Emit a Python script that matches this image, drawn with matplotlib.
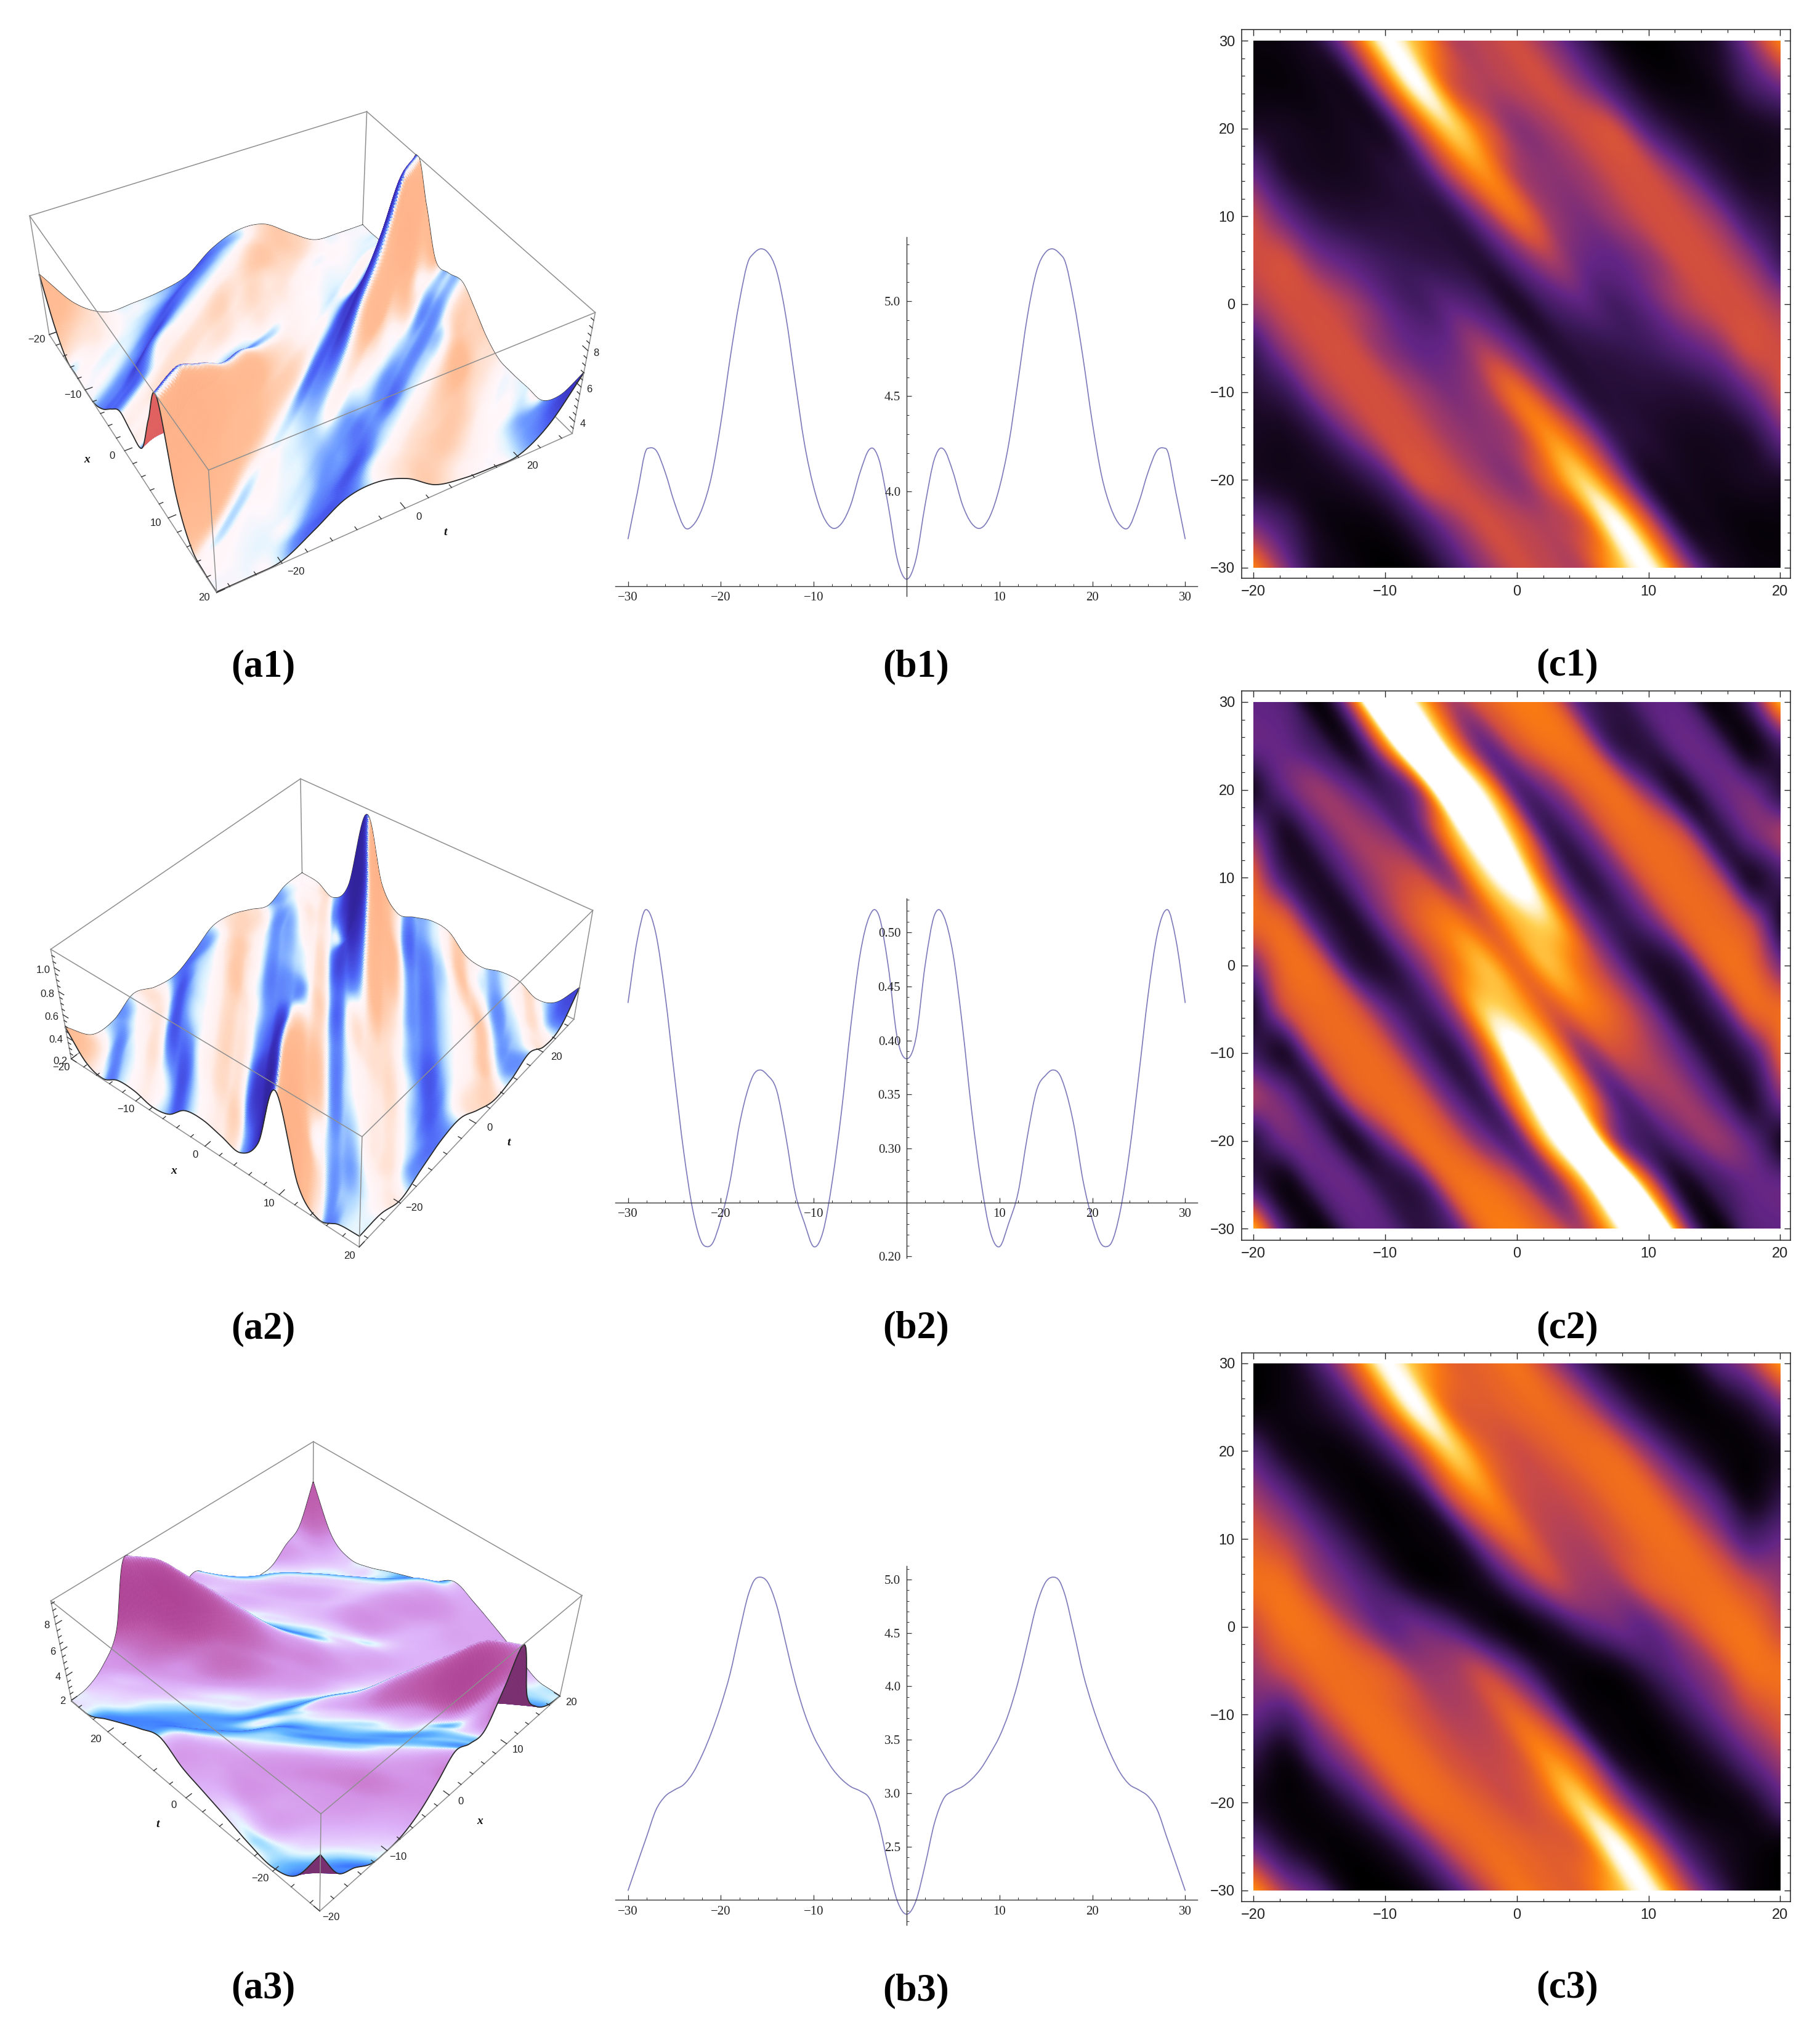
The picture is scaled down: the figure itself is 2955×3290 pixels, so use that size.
import numpy as np
import matplotlib
matplotlib.use("Agg")
import matplotlib.pyplot as plt
from matplotlib.colors import LinearSegmentedColormap
from matplotlib.transforms import Affine2D
from matplotlib.ticker import MultipleLocator, FixedLocator, FixedFormatter
from matplotlib.path import Path
from matplotlib.patches import PathPatch

W, H = 2955, 3290
X_NODES = [-20, -17.5, -15, -12.5, -10, -7.5, -5, -2.5, 0, 2.5, 5, 7.5, 10, 12.5, 15, 17.5, 20]
T_TOP = [30, 25, 20, 15, 10, 5]

# colour levels; rows t = 30 ... 5, then t = 0
c1_rows = [
 [.03,.05,.15,.50,1.00,.78,.47,.47,.50,.38,.20,.04,.00,.04,.10,.35,.66],
 [.03,.03,.06,.12,.55,1.00,.55,.45,.47,.50,.38,.20,.06,.03,.06,.20,.33],
 [.10,.08,.06,.08,.12,.50,.86,.58,.38,.43,.50,.50,.25,.12,.07,.07,.10],
 [.30,.12,.08,.08,.12,.18,.48,.70,.45,.38,.42,.50,.50,.35,.17,.08,.08],
 [.48,.30,.17,.13,.13,.13,.15,.38,.60,.42,.35,.42,.50,.50,.40,.20,.12],
 [.50,.50,.35,.27,.20,.17,.15,.13,.30,.43,.32,.30,.38,.50,.50,.40,.20],
]
c1_mid = [.42,.50,.50,.43,.30,.22,.28,.22,.10,.22,.28,.22,.30,.43,.50,.50,.42]

c2_rows = [
 [.30,.25,.03,.55,1.7,.90,.45,.55,.65,.60,.25,.15,.28,.27,.03,.20,.75],
 [.30,.30,.20,.10,.65,1.6,.80,.32,.50,.62,.58,.20,.15,.30,.27,.05,.20],
 [.10,.30,.40,.30,.20,.45,1.45,.90,.28,.35,.55,.60,.35,.10,.28,.32,.15],
 [.35,.10,.28,.42,.38,.28,.75,1.3,.75,.20,.30,.55,.60,.50,.15,.30,.42],
 [.55,.20,.10,.30,.45,.50,.40,.85,1.1,.50,.15,.30,.55,.60,.50,.12,.20],
 [.60,.55,.20,.10,.35,.55,.65,.55,.80,.85,.40,.18,.30,.55,.60,.50,.12],
]
c2_mid = [.35,.60,.55,.18,.12,.35,.60,.80,.60,.80,.60,.35,.12,.18,.55,.60,.35]

c3_rows = [
 [.00,.05,.25,.55,1.00,.78,.58,.58,.62,.45,.22,.05,.00,.03,.25,.40,.70],
 [.02,.04,.10,.25,.60,1.00,.60,.55,.58,.60,.50,.28,.10,.02,.03,.12,.30],
 [.25,.08,.03,.05,.20,.50,.86,.60,.50,.55,.60,.58,.38,.18,.05,.02,.08],
 [.42,.28,.12,.03,.02,.12,.50,.70,.52,.48,.52,.60,.60,.42,.25,.05,.15],
 [.55,.45,.30,.15,.03,.02,.08,.40,.58,.47,.45,.52,.60,.60,.45,.25,.30],
 [.62,.60,.42,.30,.18,.05,.02,.08,.30,.47,.42,.42,.55,.60,.60,.50,.40],
]
c3_mid = [.50,.62,.60,.45,.30,.32,.25,.10,.02,.10,.25,.32,.30,.45,.60,.62,.50]

# line panels, half curve (the curves are even in t)
b1_t = [0,1,2,3,3.7,4,5,6,7,7.9,9,10,11,12,13,14,15,15.7,16.5,17,18,19,20,21,22,23,23.8,25,26,27,27.7,28,29,30]
b1_y = [3.536,3.64,3.93,4.17,4.227,4.22,4.10,3.93,3.83,3.804,3.87,4.02,4.25,4.58,4.92,5.16,5.26,5.276,5.25,5.217,5.0,4.70,4.36,4.08,3.91,3.82,3.804,3.94,4.10,4.216,4.227,4.22,3.99,3.747]
b2_t = [0,1,2,3,3.4,4,5,6,7,8,9,10,11,12,13,14,15,15.7,16.5,17,18,19,20,21,21.5,22,23,24,25,26,27,28,28.1,29,30]
b2_y = [.383,.402,.470,.516,.521,.515,.480,.414,.335,.270,.223,.2091,.231,.259,.311,.354,.368,.3726,.368,.357,.322,.270,.234,.211,.2091,.212,.242,.297,.368,.442,.499,.521,.521,.493,.4347]
b3_t = [0,1,2,3,4,5,6,7,8,9,10,11,12,13,14,15,15.7,16.5,17,18,19,20,21,22,23,24,25,26,27,28,29,30]
b3_y = [1.866,1.99,2.33,2.72,2.95,3.02,3.06,3.13,3.23,3.37,3.53,3.75,4.04,4.40,4.76,4.98,5.022,4.98,4.87,4.51,4.12,3.82,3.57,3.36,3.19,3.08,3.03,2.97,2.84,2.59,2.34,2.086]

# colour level -> surface height pairs
a1_lv, a1_z = [0,.1,.3,.45,.5,.66,.85,1.0], [3.3,3.45,4.4,5.2,5.6,6.8,8.5,10.0]
a2_lv, a2_z = [0,.3,.6,1.0,1.7], [.2,.3,.42,.6,1.1]
a3_lv, a3_z = [0,.3,.5,.6,.7,.85,1.0], [1.9,3.2,4.4,5.2,6.6,8.0,9.6]

sunset = LinearSegmentedColormap.from_list("sunset", [
    (0,"#000000"),(.1,"#1c0a28"),(.2,"#3d1a5c"),(.3,"#632585"),(.42,"#a03a68"),(.5,"#cf4c42"),
    (.6,"#ee6a20"),(.66,"#fb7c12"),(.75,"#ffa41e"),(.85,"#ffd050"),(.93,"#fff0c0"),(1,"#ffffff")], N=512)
def ramp(name, pts):
    return LinearSegmentedColormap.from_list(name, [((v+1)/2, c) for v, c in pts], N=512)
warm = ramp("warm", [(-1,"#2a1a80"),(-.78,"#3a30c0"),(-.55,"#4a60f5"),(-.35,"#6a98ff"),(-.18,"#b0d8ff"),(-.06,"#e0f4ff"),
                     (.02,"#fff7fb"),(.25,"#fff0ee"),(.45,"#ffdcc8"),(.68,"#ffbe96"),(1,"#ffae84")])
lilac = ramp("lilac", [(-1,"#2a3aff"),(-.5,"#3f7cff"),(-.25,"#60b4ff"),(-.1,"#a8e0ff"),(0,"#e6f8ff"),
                       (.12,"#e8d4ff"),(.38,"#dcb0f8"),(.62,"#d290e4"),(.82,"#bc58a8"),(1,"#a02c80")])

plt.rcParams["font.family"] = ["Liberation Sans", "DejaVu Sans"]
plt.rcParams["axes.unicode_minus"] = True
fig = plt.figure(figsize=(W/100, H/100), dpi=100, facecolor="white")
PX = Affine2D(np.array([[1.,0,0],[0,-1.,H],[0,0,1.]]))

def full_grid(rows, mid):
    top = np.array(rows, float)
    return np.vstack([top[:, ::-1], np.array(mid, float)[None, :], top[::-1]])  # t ascending

def cr_axis(a, n):
    m = a.shape[0]
    p = np.vstack([2*a[0]-a[1], a, 2*a[-1]-a[-2]])
    u = np.linspace(0, m-1, n)
    i = np.minimum(u.astype(int), m-2)
    f = (u-i)[:, None]
    p0, p1, p2, p3 = p[i], p[i+1], p[i+2], p[i+3]
    return .5*((2*p1)+(-p0+p2)*f+(2*p0-5*p1+4*p2-p3)*f**2+(-p0+3*p1-3*p2+p3)*f**3)

BAND = -0.42  # dx/dt of the bands: between rows the picture is followed along the bands

def smooth(g, nr, nc):
    m = g.shape[0]
    xf = np.linspace(-20, 20, nc)
    rows = cr_axis(g.T, nc).T          # every row refined along x
    ts = np.linspace(-30, 30, m)
    dt = ts[1]-ts[0]
    taper = np.clip((20-np.abs(xf))/6, 0, 1)
    def samp(k, tq):
        q = xf+BAND*(ts[k]-tq)*taper
        return np.interp(q, xf, rows[k])
    out = np.zeros((nr, nc))
    for j, tq in enumerate(np.linspace(-30, 30, nr)):
        i = min(int((tq+30)/dt), m-2)
        f = (tq-ts[i])/dt
        p1, p2 = samp(i, tq), samp(i+1, tq)
        p0 = samp(i-1, tq) if i > 0 else 2*p1-p2
        p3 = samp(i+2, tq) if i+2 < m else 2*p2-p1
        out[j] = .5*((2*p1)+(-p0+p2)*f+(2*p0-5*p1+4*p2-p3)*f**2+(-p0+3*p1-3*p2+p3)*f**3)
    return out

def dlt(pts):
    S = np.diag([1/20, 1/30, 1/pts["zr"], 1.])
    S[2, 3] = -pts["z0"]/pts["zr"]
    A = []
    for (x, t, z, u, v) in pts["c"]:
        X = S @ np.array([x, t, z, 1.])
        A.append(np.r_[X, 0*X, -u*X])
        A.append(np.r_[0*X, X, -v*X])
    P = np.linalg.svd(np.array(A))[2][-1].reshape(3, 4) @ S
    if P[2] @ np.array([0, 0, pts["z0"]+pts["zr"]/2, 1]) < 0:
        P = -P
    return P

def proj(P, x, t, z):
    X = np.stack([x, t, z, np.ones_like(x)], -1) @ P.T
    return X[..., 0]/X[..., 2], X[..., 1]/X[..., 2]

def surface(cfg, grid, lv, zv):
    P = dlt(cfg)
    ax = fig.add_axes([0, 1-(cfg["py"]+1000)/H, 1000/W, 1000/H], projection="3d")
    ax.set_axis_off(); ax.patch.set_visible(False)
    ax.computed_zorder = False
    ax.apply_aspect()
    Pd = ax.transData.inverted().get_matrix() @ PX.get_matrix() @ P
    M = np.vstack([Pd[0], Pd[1], [0, 0, 0, -1.], Pd[2]])
    ax.get_proj = lambda: M

    z0, zr = cfg["z0"], cfg["zr"]
    z1 = z0+zr
    n = 221
    Z = smooth(np.interp(grid, lv, zv), n, n)
    Z = np.clip(Z, z0, z1)
    x = np.linspace(-20, 20, n); t = np.linspace(-30, 30, n)
    XX, TT = np.meshgrid(x, t)
    zn = (Z-z0)/zr
    dT, dX = np.gradient(zn, 1/(n-1), 1/(n-1))
    s = cfg["sgn"]*(dX+dT)/np.sqrt(2)
    v = np.arctan(s/cfg["k"])*2/np.pi
    cols = cfg["cmap"]((v+1)/2)
    u, w = proj(P, XX, TT, Z)
    area = (u[1:, 1:]-u[:-1, :-1])*(w[1:, :-1]-w[:-1, 1:])-(w[1:, 1:]-w[:-1, :-1])*(u[1:, :-1]-u[:-1, 1:])
    flip = np.sign(area) != np.sign(np.median(area))
    fl = np.zeros_like(Z, bool); fl[:-1, :-1] = flip
    cols[fl] = matplotlib.colors.to_rgba(cfg["back"])
    poly = ax.plot_surface(XX, TT, Z, rstride=1, cstride=1, facecolors=cols, shade=False,
                           linewidth=.5, antialiased=True, zorder=2)
    poly.set_clip_on(False)

    fx, ft = cfg["front"]
    ek = dict(color="#2a2a2a", clip_on=False)
    for xe, zo, lw in ((fx, 2.5, 1.3), (-fx, 1.5, 1.6)):
        ax.plot(np.full(n, xe), t, Z[:, 0 if xe < 0 else -1], zorder=zo, lw=lw, **ek)
    for te, zo, lw in ((ft, 2.5, 1.3), (-ft, 1.5, 1.6)):
        ax.plot(x, np.full(n, te), Z[0 if te < 0 else -1, :], zorder=zo, lw=lw, **ek)

    # box
    gk = dict(color="#8e8e8e", lw=1.1, clip_on=False)
    xb, tb = -fx, -ft
    def seg(a, b, zo):
        ax.plot([a[0], b[0]], [a[1], b[1]], [a[2], b[2]], zorder=zo, **gk)
    seg((xb, tb, z0), (xb, tb, z1), 1)
    seg((xb, tb, z0), (fx, tb, z0), 1)
    seg((xb, tb, z0), (xb, ft, z0), 1)
    seg((xb, tb, z1), (fx, tb, z1), 1)
    seg((xb, tb, z1), (xb, ft, z1), 1)
    seg((fx, ft, z0), (fx, ft, z1), 3)
    seg((fx, ft, z1), (fx, tb, z1), 3)
    seg((fx, ft, z1), (xb, ft, z1), 3)
    seg((fx, tb, z0), (fx, tb, z1), 3)
    seg((xb, ft, z0), (xb, ft, z1), 3)
    seg((fx, ft, z0), (fx, tb, z0), 3)
    seg((fx, ft, z0), (xb, ft, z0), 3)

    # ticks
    tk = dict(color="#333333", lw=1.0, clip_on=False, zorder=3)
    def ticks(vals, maj, fn):
        for q in vals:
            L = 1.0 if any(abs(q-m) < 1e-6 for m in maj) else .5
            a, b = fn(q, L)
            ax.plot([a[0], b[0]], [a[1], b[1]], [a[2], b[2]], **tk)
    xt, tt = cfg["xaxis_t"], cfg["taxis_x"]
    ticks(np.arange(-20, 21, 2), [-20, -10, 0, 10, 20],
          lambda q, L: ((q, xt, z0), (q, xt-np.sign(xt)*1.2*L, z0)))
    ticks(np.arange(-28, 29, 4), [-20, 0, 20],
          lambda q, L: ((tt, q, z0), (tt-np.sign(tt)*.8*L, q, z0)))
    zx, zt = cfg["zaxis"]
    ticks(np.arange(cfg["zt0"], z1, cfg["zminor"]), cfg["zmaj"],
          lambda q, L: ((zx, zt, q), (zx-np.sign(zx)*.8*L, zt, q)))

    lab = dict(transform=PX, ha="center", va="center", fontsize=12, color="#222222")
    for q in [-20, -10, 0, 10, 20]:
        a, b = proj(P, np.array(float(q)), np.array(float(xt)), np.array(float(z0)))
        fig.text(a+cfg["xo"][0], b+cfg["xo"][1], f"{q}".replace("-", "\u2212"), **lab)
    for q in [-20, 0, 20]:
        a, b = proj(P, np.array(float(tt)), np.array(float(q)), np.array(float(z0)))
        fig.text(a+cfg["to"][0], b+cfg["to"][1], f"{q}".replace("-", "\u2212"), **lab)
    for q in cfg["zmaj"]:
        a, b = proj(P, np.array(float(zx)), np.array(float(zt)), np.array(float(q)))
        fig.text(a+cfg["zo"][0], b+cfg["zo"][1], cfg["zfmt"].format(q), **lab)
    ser = dict(transform=PX, ha="center", va="center", fontsize=14, family="Liberation Serif",
               style="italic", weight="bold", color="#111111")
    a, b = proj(P, np.array(0.), np.array(float(xt)), np.array(float(z0)))
    fig.text(a+cfg["xl"][0], b+cfg["xl"][1], "x", **ser)
    a, b = proj(P, np.array(float(tt)), np.array(0.), np.array(float(z0)))
    fig.text(a+cfg["tl"][0], b+cfg["tl"][1], "t", **ser)

cfg1 = dict(py=150, z0=3.3, zr=6.7, sgn=-1, k=2.5, cmap=warm, back="#e06060", front=(20, -30),
            xaxis_t=-30, taxis_x=20, zaxis=(20, 30), zt0=3.6, zminor=.4, zmaj=[4, 6, 8], zfmt="{:d}",
            xo=(-20, 8), to=(22, 14), zo=(13, 4), xl=(-61, 14), tl=(65, 39),
            c=[(-20,-30,3.3,79.7,542.6),(20,-30,3.3,352,963),(20,30,3.3,929.8,702.6),(-20,30,3.3,588,368),
               (-20,-30,10,48.5,351),(20,-30,10,338,763),(20,30,10,966,508.7),(-20,30,10,596,180)])
cfg2 = dict(py=1230, z0=.2, zr=.95, sgn=-1, k=2.5, cmap=warm, back="#e06060", front=(20, -30),
            xaxis_t=-30, taxis_x=20, zaxis=(-20, -30), zt0=.2, zminor=.05, zmaj=[.2, .4, .6, .8, 1.0], zfmt="{:.1f}",
            xo=(-16, 14), to=(22, 8), zo=(-18, 4), xl=(-51, 40), tl=(53, 32),
            c=[(-20,-30,.2,116,1719.6),(20,-30,.2,583.5,2025),(20,30,.2,931,1657),(-20,30,.2,491,1433),
               (-20,-30,1.15,81.6,1542),(20,-30,1.15,588,1845),(20,30,1.15,963,1477),(-20,30,1.15,488,1266)])
cfg3 = dict(py=2320, z0=1.9, zr=7.8, sgn=1, k=2.5, cmap=lilac, back="#7a3070", front=(-20, -30),
            xaxis_t=-30, taxis_x=-20, zaxis=(-20, 30), zt0=2, zminor=.5, zmaj=[2, 4, 6, 8], zfmt="{:d}",
            xo=(18, 10), to=(-20, 12), zo=(-14, 2), xl=(50, 42), tl=(-46, 43),
            c=[(-20,-30,1.9,520,3104),(20,-30,1.9,909,2753),(-20,30,1.9,116,2762),(20,30,1.9,508,2502.5),
               (-20,-30,9.7,520,2945),(20,-30,9.7,945,2592),(-20,30,9.7,83,2600),(20,30,9.7,509,2340)])

G1, G2, G3 = full_grid(c1_rows, c1_mid), full_grid(c2_rows, c2_mid), full_grid(c3_rows, c3_mid)
surface(cfg1, G1, a1_lv, a1_z)
surface(cfg2, G2, a2_lv, a2_z)
surface(cfg3, G3, a3_lv, a3_z)

def bezier_path(xs, ys):
    """Smooth path through the read points, drawn as cubic Bezier pieces by matplotlib."""
    xs, ys = np.asarray(xs, float), np.asarray(ys, float)
    d = np.gradient(ys, xs)
    v = [(xs[0], ys[0])]; c = [Path.MOVETO]
    for i in range(len(xs)-1):
        h = xs[i+1]-xs[i]
        v += [(xs[i]+h/3, ys[i]+d[i]*h/3), (xs[i+1]-h/3, ys[i+1]-d[i+1]*h/3), (xs[i+1], ys[i+1])]
        c += [Path.CURVE4]*3
    return Path(v, c)

# line panels
def line_panel(py0, py1, ylim, base, tt, yy, maj, mnr, labels):
    x0, x1 = 999, 1944
    ax = fig.add_axes([x0/W, 1-py1/H, (x1-x0)/W, (py1-py0)/H])
    ax.patch.set_visible(False)
    tf = np.r_[-np.array(tt[::-1]), np.array(tt[1:])]
    yf = np.r_[np.array(yy[::-1]), np.array(yy[1:])]
    ax.add_patch(PathPatch(bezier_path(tf, yf), fill=False, edgecolor="#7f7cbc", lw=1.25, clip_on=False))
    ax.set_xlim((x0-1472)/15.08, (x1-1472)/15.08); ax.set_ylim(*ylim)
    for s in ("top", "right"):
        ax.spines[s].set_visible(False)
    ax.spines["left"].set_position(("data", 0))
    ax.spines["bottom"].set_position(("data", base))
    for s in ("left", "bottom"):
        ax.spines[s].set_color("#333333"); ax.spines[s].set_linewidth(1.0)
    ax.xaxis.set_major_locator(FixedLocator([-30, -20, -10, 10, 20, 30]))
    ax.xaxis.set_minor_locator(MultipleLocator(2))
    ax.yaxis.set_major_locator(FixedLocator(maj))
    ax.yaxis.set_major_formatter(FixedFormatter(labels))
    ax.yaxis.set_minor_locator(MultipleLocator(mnr))
    ax.tick_params(which="major", direction="in", length=6, width=.9, color="#333333", pad=7)
    ax.tick_params(which="minor", direction="in", length=3, width=.7, color="#333333")
    for l in ax.get_xticklabels()+ax.get_yticklabels():
        l.set_family("Liberation Serif"); l.set_fontsize(15); l.set_color("#222222")

line_panel(385, 968, (3.447, 5.338), 3.5, b1_t, b1_y, [4.0, 4.5, 5.0], .1, ["4.0", "4.5", "5.0"])
line_panel(1459, 2042.7, (.1987, .5314), .25, b2_t, b2_y, [.20, .30, .35, .40, .45, .50], .01,
           ["0.20", "0.30", "0.35", "0.40", "0.45", "0.50"])
line_panel(2543, 3126, (1.765, 5.127), 2.0, b3_t, b3_y, [2.5, 3.0, 3.5, 4.0, 4.5, 5.0], .1,
           ["2.5", "3.0", "3.5", "4.0", "4.5", "5.0"])

# density panels
def density(grid, ft, fb, it, ib):
    fl, fr, il, ir = 2016, 2907, 2035.3, 2890.4
    ax = fig.add_axes([fl/W, 1-fb/H, (fr-fl)/W, (fb-ft)/H])
    ax.imshow(smooth(grid, 420, 420), origin="lower", extent=(-20, 20, -30, 30), aspect="auto",
              cmap=sunset, vmin=0, vmax=1, interpolation="bilinear")
    sx = (ir-il)/40; sy = (ib-it)/60
    ax.set_xlim(-20+(fl-il)/sx, 20+(fr-ir)/sx)
    ax.set_ylim(-30-(fb-ib)/sy, 30+(it-ft)/sy)
    ax.xaxis.set_major_locator(MultipleLocator(10)); ax.xaxis.set_minor_locator(MultipleLocator(2))
    ax.yaxis.set_major_locator(MultipleLocator(10)); ax.yaxis.set_minor_locator(MultipleLocator(2))
    ax.tick_params(which="both", direction="in", top=True, right=True, color="#222222")
    ax.tick_params(which="major", length=7, width=1.0, labelsize=17, pad=8, labelcolor="#222222")
    ax.tick_params(which="minor", length=3.5, width=.9)
    for s in ax.spines.values():
        s.set_linewidth(1.1); s.set_color("#222222")

density(G1, 47.9, 939, 66.4, 921.6)
density(G2, 1122, 2014, 1140, 1995)
density(G3, 2196.6, 3088, 2213.8, 3069.7)

cap = dict(transform=PX, ha="center", va="center", fontsize=45, family="Liberation Serif", weight="bold", color="black")
for s, x, y in [("(a1)", 427, 1083), ("(b1)", 1487, 1083), ("(c1)", 2545, 1081),
                ("(a2)", 427, 2158), ("(b2)", 1487, 2157), ("(c2)", 2545, 2157),
                ("(a3)", 427, 3229), ("(b3)", 1487, 3233), ("(c3)", 2545, 3228)]:
    fig.text(x, y, s, **cap)

fig.savefig("out.png", dpi=100)
